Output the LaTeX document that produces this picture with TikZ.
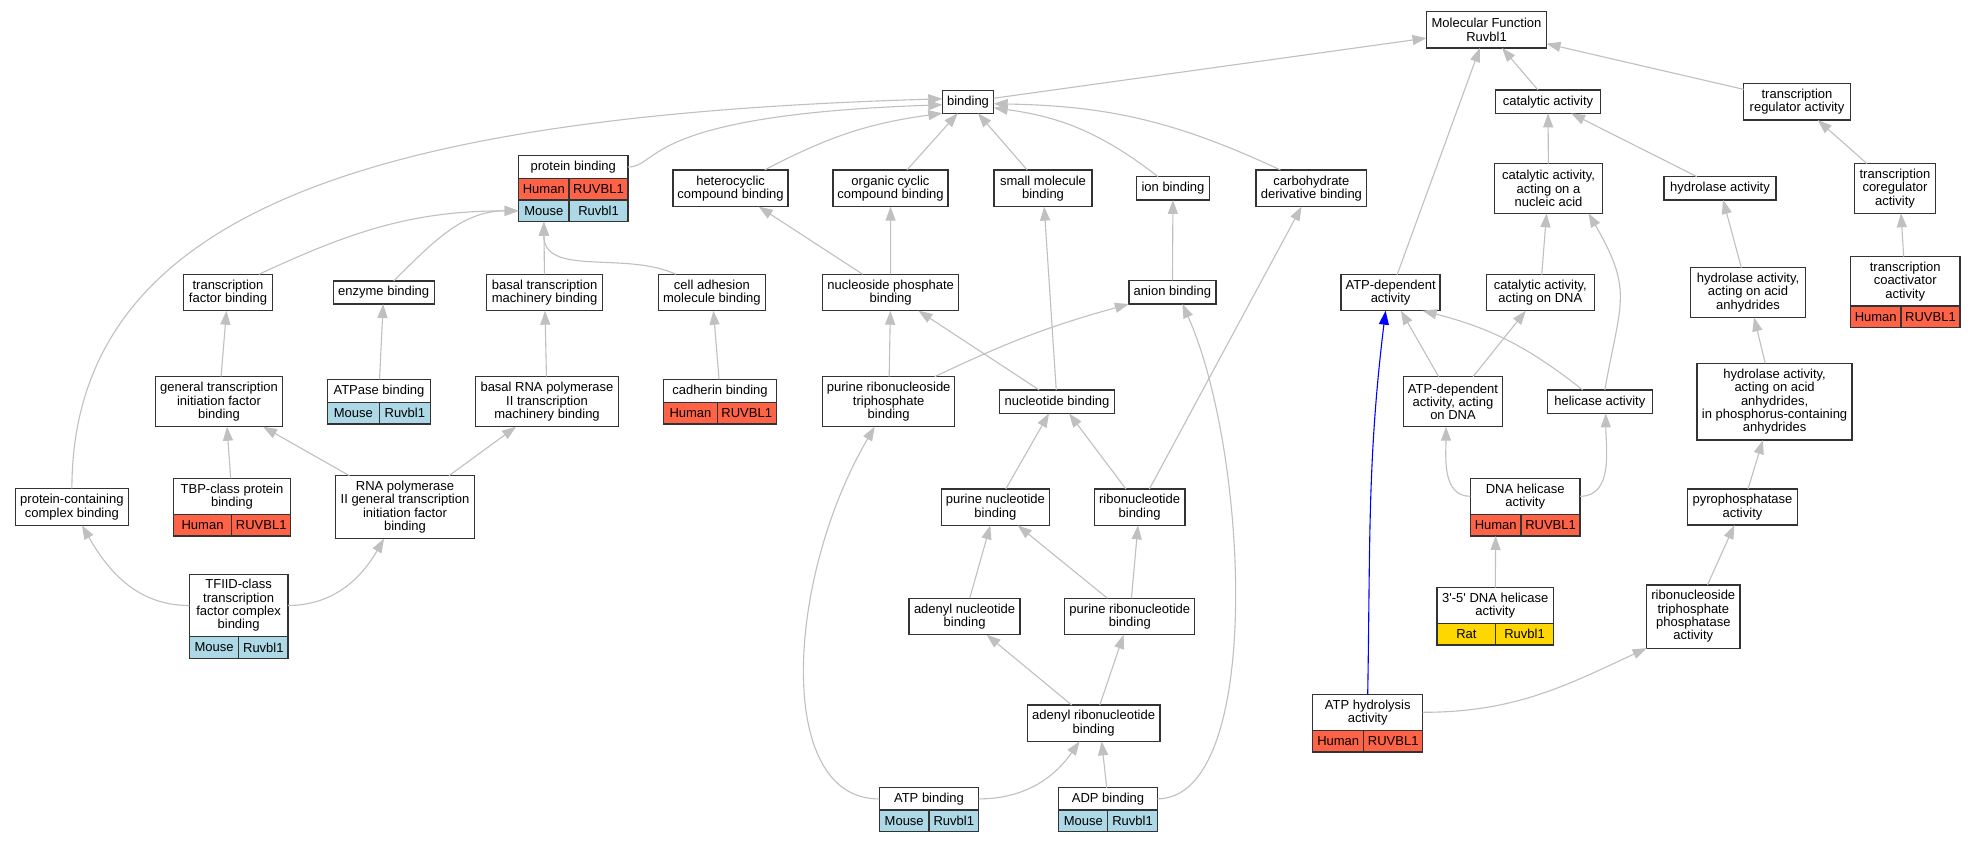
\documentclass[tikz,border=0pt]{standalone}
\usepackage{fontspec}
\setmainfont{Liberation Sans}
\usetikzlibrary{arrows.meta,positioning}
\definecolor{edgegray}{HTML}{C0C0C0}
\definecolor{boxline}{HTML}{333333}
\definecolor{human}{HTML}{FF6347}
\definecolor{mouse}{HTML}{ADD8E6}
\definecolor{rat}{HTML}{FFD700}

\begin{document}
\begin{tikzpicture}[
		x=1pt, y=1pt,
		term/.style 2 args={draw=boxline, line width=1.3pt, fill=white, align=center, inner sep=0pt, outer sep=0pt, minimum width=#1, minimum height=#2, font=\fontsize{13}{13.3}\selectfont},
		cell/.style={draw=boxline, line width=1.3pt, inner sep=0pt, outer sep=0pt, minimum height=21.7, font=\fontsize{13}{13.3}\selectfont},
		hs/.style={cell, fill=human},
		ms/.style={cell, fill=mouse},
		rs/.style={cell, fill=rat},
		link/.style={draw=edgegray, line width=1.1pt, -{Triangle[length=14pt, width=10pt]}}
	]
		\path[use as bounding box, fill=white] (0,0) rectangle (1976,-843);

		\node[term={120}{36.3}] (mf) at (1486.5,-29.8) {Molecular Function\\Ruvbl1};
		\node[term={51.4}{23}] (bind) at (968,-101.8) {binding};
		\node[term={105.6}{23.3}] (cat) at (1548,-101.7) {catalytic activity};
		\node[term={106.5}{36.7}] (treg) at (1797,-101.7) {transcription\\regulator activity};

		\node[term={109.4}{22.6}] (prot) at (573.3,-167) {protein binding};
		\node[hs, minimum width=50.4, below right=0pt and 0pt of prot.south west] (prot-a) {Human};
		\node[hs, minimum width=59, right=0pt of prot-a] (prot-b) {RUVBL1};
		\node[ms, minimum width=50.4, below=0pt of prot-a] (prot-c) {Mouse};
		\node[ms, minimum width=59, right=0pt of prot-c] (prot-d) {Ruvbl1};
		\node[term={115}{36.7}] (het) at (730.6,-188.3) {heterocyclic\\compound binding};
		\node[term={115}{36.7}] (orgc) at (890.5,-188.3) {organic cyclic\\compound binding};
		\node[term={97.8}{36.7}] (smol) at (1043,-188.3) {small molecule\\binding};
		\node[term={72.8}{23.3}] (ion) at (1173,-188.3) {ion binding};
		\node[term={110.8}{36.7}] (carb) at (1311.4,-188.3) {carbohydrate\\derivative binding};
		\node[term={108}{49.6}] (catna) at (1548.5,-188.5) {catalytic activity,\\acting on a\\nucleic acid};
		\node[term={112}{23.3}] (hyd) at (1720,-188.3) {hydrolase activity};
		\node[term={81.5}{49.6}] (tcoreg) at (1895,-188.5) {transcription\\coregulator\\activity};

		\node[term={88.4}{36.4}] (tfb) at (228,-292.5) {transcription\\factor binding};
		\node[term={101}{23}] (enz) at (383.7,-292.5) {enzyme binding};
		\node[term={116}{36.4}] (btm) at (544.6,-292.5) {basal transcription\\machinery binding};
		\node[term={107}{36.4}] (cam) at (711.9,-292.5) {cell adhesion\\molecule binding};
		\node[term={136}{36.4}] (nph) at (890.7,-292.5) {nucleoside phosphate\\binding};
		\node[term={87}{23.7}] (anion) at (1172.4,-292.2) {anion binding};
		\node[term={99}{36}] (atpd) at (1390.6,-292.7) {ATP-dependent\\activity};
		\node[term={108}{36}] (catdna) at (1540.3,-292.7) {catalytic activity,\\acting on DNA};
		\node[term={114.7}{49.6}] (hydaa) at (1748,-292.5) {hydrolase activity,\\acting on acid\\anhydrides};
		\node[term={109.5}{49.3}] (tcoact) at (1905.2,-281.35) {transcription\\coactivator\\activity};
		\node[hs, minimum width=50.5, below right=0pt and 0pt of tcoact.south west] (tcoact-a) {Human};
		\node[hs, minimum width=59, right=0pt of tcoact-a] (tcoact-b) {RUVBL1};

		\node[term={127.6}{50}] (gtif) at (219,-401.7) {general transcription\\initiation factor\\binding};
		\node[term={103.1}{23}] (atpase) at (379,-390.8) {ATPase binding};
		\node[ms, minimum width=51.7, below right=0pt and 0pt of atpase.south west] (atpase-a) {Mouse};
		\node[ms, minimum width=51.4, right=0pt of atpase-a] (atpase-b) {Ruvbl1};
		\node[term={143.5}{50}] (brna) at (547,-401.7) {basal RNA polymerase\\II transcription\\machinery binding};
		\node[term={112.5}{23}] (cadh) at (720,-390.8) {cadherin binding};
		\node[hs, minimum width=53.5, below right=0pt and 0pt of cadh.south west] (cadh-a) {Human};
		\node[hs, minimum width=59, right=0pt of cadh-a] (cadh-b) {RUVBL1};
		\node[term={132}{50}] (prtb) at (888.7,-401.7) {purine ribonucleoside\\triphosphate\\binding};
		\node[term={115}{23.3}] (nucb) at (1057,-401.7) {nucleotide binding};
		\node[term={99}{50}] (atpdna) at (1453,-401.7) {ATP-dependent\\activity, acting\\on DNA};
		\node[term={104.8}{23.3}] (hel) at (1599.8,-401.7) {helicase activity};
		\node[term={155}{76.7}] (hydpc) at (1774.6,-401.7) {hydrolase activity,\\acting on acid\\anhydrides,\\in phosphorus-containing\\anhydrides};

		\node[term={112.5}{36.6}] (pcb) at (71.9,-507) {protein-containing\\complex binding};
		\node[term={117.4}{36}] (tbp) at (232,-496.3) {TBP-class protein\\binding};
		\node[hs, minimum width=58.5, below right=0pt and 0pt of tbp.south west] (tbp-a) {Human};
		\node[hs, minimum width=58.9, right=0pt of tbp-a] (tbp-b) {RUVBL1};
		\node[term={138.8}{63}] (rnap) at (405,-507.2) {RNA polymerase\\II general transcription\\initiation factor\\binding};
		\node[term={108.5}{36.3}] (pnb) at (995.4,-507.2) {purine nucleotide\\binding};
		\node[term={90.6}{36.3}] (rnb) at (1139.6,-507.2) {ribonucleotide\\binding};
		\node[term={109.7}{36}] (dnah) at (1525.2,-496.3) {DNA helicase\\activity};
		\node[hs, minimum width=50.7, below right=0pt and 0pt of dnah.south west] (dnah-a) {Human};
		\node[hs, minimum width=59, right=0pt of dnah-a] (dnah-b) {RUVBL1};
		\node[term={109.7}{36}] (pyro) at (1742.5,-507) {pyrophosphatase\\activity};

		\node[term={98.6}{62.4}] (tfiid) at (238.6,-605.5) {TFIID-class\\transcription\\factor complex\\binding};
		\node[ms, minimum width=49.5, below right=0pt and 0pt of tfiid.south west] (tfiid-a) {Mouse};
		\node[ms, minimum width=49.1, right=0pt of tfiid-a] (tfiid-b) {Ruvbl1};
		\node[term={111}{36.4}] (anb) at (964.6,-616.5) {adenyl nucleotide\\binding};
		\node[term={130}{36.4}] (prnb) at (1129.8,-616.5) {purine ribonucleotide\\binding};
		\node[term={116.3}{35.6}] (dnah35) at (1495.2,-605.5) {3\textquotesingle-5\textquotesingle{} DNA helicase\\activity};
		\node[rs, minimum width=58.7, below right=0pt and 0pt of dnah35.south west] (dnah35-a) {Rat};
		\node[rs, minimum width=57.6, right=0pt of dnah35-a] (dnah35-b) {Ruvbl1};
		\node[term={93.3}{63.3}] (rtpa) at (1693.3,-616.5) {ribonucleoside\\triphosphate\\phosphatase\\activity};

		\node[term={132.6}{36.3}] (arnb) at (1093.6,-723.2) {adenyl ribonucleotide\\binding};
		\node[term={110}{36}] (atph) at (1367.7,-712.3) {ATP hydrolysis\\activity};
		\node[hs, minimum width=51, below right=0pt and 0pt of atph.south west] (atph-a) {Human};
		\node[hs, minimum width=59, right=0pt of atph-a] (atph-b) {RUVBL1};

		\node[term={99.1}{22.3}] (atpb) at (929,-798.9) {ATP binding};
		\node[ms, minimum width=49.5, below right=0pt and 0pt of atpb.south west] (atpb-a) {Mouse};
		\node[ms, minimum width=49.6, right=0pt of atpb-a] (atpb-b) {Ruvbl1};
		\node[term={98.6}{22.3}] (adpb) at (1108,-798.9) {ADP binding};
		\node[ms, minimum width=49.1, below right=0pt and 0pt of adpb.south west] (adpb-a) {Mouse};
		\node[ms, minimum width=49.5, right=0pt of adpb-a] (adpb-b) {Ruvbl1};

		\draw[link] (bind) -- (mf);
		\draw[link] (cat) -- (mf);
		\draw[link] (treg) -- (mf);
		\draw[link] (atpd) -- (mf);

		\draw[link] (prot.east) .. controls (660,-167) and (640,-115) .. ([yshift=-3]bind.west);
		\draw[link] (pcb.north) .. controls (72,-200) and (400,-115) .. ([yshift=3]bind.west);
		\draw[link] ([xshift=34]het.north) to[bend left=10] (bind.south west);
		\draw[link] (orgc) -- (bind);
		\draw[link] (smol) -- (bind);
		\draw[link] ([xshift=-15]ion.north) to[bend right=15] ([yshift=-6]bind.east);
		\draw[link] ([xshift=-31]carb.north) to[bend right=12] ([yshift=-2]bind.east);

		\draw[link] (catna) -- (cat);
		\draw[link] (hyd) -- (cat);
		\draw[link] (tcoreg) -- (treg);

		\draw[link] ([xshift=31]tfb.north) to[out=25, in=180] (prot-c.west);
		\draw[link] ([xshift=10]enz.north) to[out=45, in=180] (prot-c.west);
		\draw[link] (btm) -- (prot-c);
		\draw[link] ([xshift=-36]cam.north) to[out=155, in=-90] (prot-c.south);

		\draw[link] (gtif) -- (tfb);
		\draw[link] (atpase) -- (enz);
		\draw[link] (brna) -- (btm);
		\draw[link] (cadh) -- (cam);
		\draw[link] (nph) -- (het);
		\draw[link] (nph) -- (orgc);
		\draw[link] (nucb) -- (smol);
		\draw[link] (anion) -- (ion);
		\draw[link] (rnb) -- (carb);
		\draw[link] (prtb) -- (nph);
		\draw[link] (nucb) -- (nph);
		\draw[link] ([xshift=46]prtb.north) to[bend left=5] (anion.south west);
		\draw[link] (adpb.east) .. controls (1265,-798) and (1248,-450) .. ([xshift=10]anion.south);
		\draw[link] (atpb.west) .. controls (775,-800) and (785,-580) .. ([xshift=-14]prtb.south);
		\draw[link] (pnb) -- ([xshift=-8]nucb.south);
		\draw[link] (rnb) -- ([xshift=12]nucb.south);
		\draw[link] (anb) -- (pnb);
		\draw[link] (prnb) -- (pnb);
		\draw[link] (prnb) -- (rnb);
		\draw[link] (arnb) -- (anb);
		\draw[link] (arnb) -- (prnb);
		\draw[link] (atpb.east) to[out=0, in=-125] ([xshift=-14]arnb.south);
		\draw[link] (adpb) -- ([xshift=8]arnb.south);

		\draw[link] (tbp) -- ([xshift=8]gtif.south);
		\draw[link] (rnap) -- (gtif);
		\draw[link] ([xshift=44]rnap.north) -- ([xshift=-31]brna.south);
		\draw[link] (tfiid.west) to[out=180, in=-60] ([xshift=10]pcb.south);
		\draw[link] (tfiid.east) to[out=0, in=-120] ([xshift=-21]rnap.south);

		\draw[link] (catdna) -- (catna);
		\draw[link] ([xshift=5]hel.north) to[out=80, in=-60, looseness=1.3] ([xshift=40]catna.south);
		\draw[link] (hydaa) -- (hyd);
		\draw[link] (tcoact) -- ([xshift=6]tcoreg.south);
		\draw[link] (atpdna) -- (atpd);
		\draw[link] (atpdna) -- (catdna);
		\draw[link] ([xshift=-17]hel.north) to[bend right=12] ([xshift=32]atpd.south);
		\draw[link, draw=blue] (atph.north) to[out=89, in=-97] ([xshift=-5]atpd.south);
		\draw[link] (dnah.west) to[out=180, in=-90] ([xshift=-7]atpdna.south);
		\draw[link] (dnah.east) to[out=0, in=-90] ([xshift=6]hel.south);
		\draw[link] (hydpc) -- (hydaa);
		\draw[link] (pyro) -- (hydpc);
		\draw[link] (dnah35) -- (dnah-a);
		\draw[link] (rtpa) -- (pyro);
		\draw[link] (atph.east) to[out=0, in=205] (rtpa.south west);
	\end{tikzpicture}
\end{document}
